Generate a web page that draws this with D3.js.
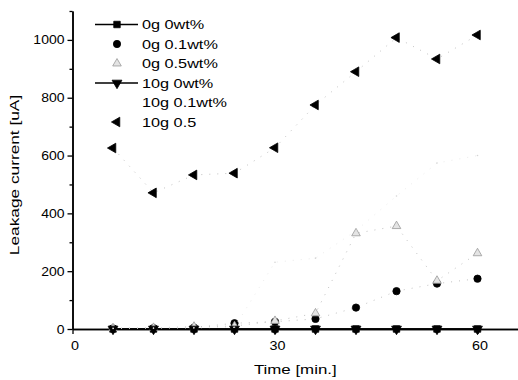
<!DOCTYPE html>
<html>
<head>
<meta charset="utf-8">
<script src="https://cdn.jsdelivr.net/npm/d3@7"></script>
<style>
  body { margin: 0; background: #fff; }
  text { font-family: "Liberation Sans", Arial, sans-serif; fill: #000; }
</style>
</head>
<body>
<svg id="chart" width="518" height="380"></svg>
<script>
// data (time in minutes, current in uA)
const times = [6, 12, 18, 24, 30, 36, 42, 48, 54, 60];
const s0g0wt = [0, 0, 0, 0, 0, 0, 0, 0, 0, 0];
const s0g01wt = [2, 3, 5, 20, 25, 35, 74, 131, 157, 174];
const s0g05wt = [3, 4, 8, 10, 28, 54, 331, 356, 167, 262];
const s10g0wt = [0, 0, 0, 0, 0, 0, 0, 0, 0, 0];
const s10g01wt = [2, 3, 4, 6, 231, 245, 340, 460, 574, 600];
const s10g05 = [626, 471, 533, 539, 627, 775, 890, 1008, 934, 1017];

const xTicks = [0, 30, 60];
const yTicks = [0, 200, 400, 600, 800, 1000];

// the scan is wider than tall, so the text looks stretched sideways
const stretch = 1.25;

const svg = d3.select('#chart');

const x = d3.scaleLinear().domain([0, 66]).range([72.5, 518]);
const y = d3.scaleLinear().domain([0, 1100]).range([329, 11]);

// marker shapes
const sym = {
  square: d3.symbol().type(d3.symbolSquare).size(42),
  circle: d3.symbol().type(d3.symbolCircle).size(42),
  tri: d3.symbol().type(d3.symbolTriangle).size(32),
  down: d3.symbol().type(d3.symbolTriangle).size(42),
  left: d3.symbol().type(d3.symbolTriangle).size(40)
};

const series = [
  { name: '0g 0wt%', vals: s0g0wt, shape: 'square', rot: 0, fill: '#000', stroke: '#000', line: 'solid' },
  { name: '0g 0.1wt%', vals: s0g01wt, shape: 'circle', rot: 0, fill: '#000', stroke: '#000', line: 'dot' },
  { name: '0g 0.5wt%', vals: s0g05wt, shape: 'tri', rot: 0, fill: '#e4e4e4', stroke: '#999', line: 'dot' },
  { name: '10g 0wt%', vals: s10g0wt, shape: 'down', rot: 180, fill: '#000', stroke: '#000', line: 'solid' },
  { name: '10g 0.1wt%', vals: s10g01wt, shape: null, rot: 0, fill: 'none', stroke: '#ececec', line: 'dot' },
  { name: '10g 0.5', vals: s10g05, shape: 'left', rot: -90, fill: '#000', stroke: '#000', line: 'dot' }
];

// axes
const gx = svg.append('g').attr('transform', 'translate(0,' + y(0) + ')');
gx.call(d3.axisBottom(x).tickValues(d3.range(6, 61, 6)).tickSize(3).tickSizeOuter(0).tickFormat(''));
gx.call(g => g.append('g').call(d3.axisBottom(x).tickValues(xTicks).tickSize(5).tickSizeOuter(0).tickFormat(d3.format('d'))));
gx.selectAll('.domain').attr('stroke', '#000').attr('stroke-width', 1.5);
gx.selectAll('line').attr('stroke', '#000').attr('stroke-width', 1.3);
gx.selectAll('text').attr('font-size', 12.5).attr('font-family', 'Liberation Sans').attr('fill', '#000')
  .attr('dy', '1.05em').attr('transform', 'translate(2,0) scale(1.15,1)');

const gy = svg.append('g').attr('transform', 'translate(' + x(0) + ',0)');
gy.call(d3.axisLeft(y).tickValues(d3.range(100, 1101, 200)).tickSize(3).tickSizeOuter(0).tickFormat(''));
gy.call(g => g.append('g').call(d3.axisLeft(y).tickValues(yTicks).tickSize(5).tickSizeOuter(0).tickFormat(d3.format('d'))));
gy.selectAll('.domain').attr('stroke', '#000').attr('stroke-width', 1.5);
gy.selectAll('line').attr('stroke', '#000').attr('stroke-width', 1.3);
gy.selectAll('text').attr('font-size', 12.5).attr('font-family', 'Liberation Sans').attr('fill', '#000')
  .attr('x', 0).attr('transform', 'translate(-8,0) scale(1.12,1)');

// axis titles
svg.append('text')
  .attr('transform', 'translate(' + (x.range()[0] + x.range()[1]) / 2 + ',374) scale(' + stretch + ',1)')
  .attr('text-anchor', 'middle').attr('font-size', 13.5)
  .text('Time [min.]');
svg.append('text')
  .attr('transform', 'translate(19,175) rotate(-90) scale(1.28,1)')
  .attr('text-anchor', 'middle').attr('font-size', 13.5)
  .text('Leakage current [uA]');

// series lines and markers
const plot = svg.append('g');
series.forEach(s => {
  const pts = times.map((t, i) => [t, s.vals[i]]);
  const line = d3.line().x(d => x(d[0])).y(d => y(d[1]));
  plot.append('path')
    .datum(pts)
    .attr('d', line)
    .attr('fill', 'none')
    .attr('stroke', s.line === 'solid' ? s.stroke : (s.shape ? '#c2c2c2' : s.stroke))
    .attr('stroke-width', s.line === 'solid' ? 1.5 : 1)
    .attr('stroke-dasharray', s.line === 'solid' ? null : '1,7');
  if (s.shape) {
    plot.selectAll(null)
      .data(pts)
      .enter()
      .append('path')
      .attr('d', sym[s.shape])
      .attr('transform', d => 'translate(' + x(d[0]) + ',' + y(d[1]) + ') rotate(' + s.rot + ')')
      .attr('fill', s.fill)
      .attr('stroke', s.stroke)
      .attr('stroke-width', 0.8);
  } else {
    plot.selectAll(null)
      .data(pts)
      .enter()
      .append('circle')
      .attr('cx', d => x(d[0])).attr('cy', d => y(d[1]))
      .attr('r', 0.8).attr('fill', '#d4d4d4');
  }
});

// legend
const leg = svg.append('g');
const rowY = d3.scaleLinear().domain([0, 5]).range([24.5, 122]);
series.forEach((s, i) => {
  const row = leg.append('g').attr('transform', 'translate(0,' + rowY(i) + ')');
  if (s.line === 'solid') {
    row.append('line').attr('x1', 95).attr('x2', 138).attr('y1', 0).attr('y2', 0)
      .attr('stroke', '#000').attr('stroke-width', 1.5);
  }
  if (s.shape) {
    row.append('path')
      .attr('d', sym[s.shape])
      .attr('transform', 'translate(117,0) rotate(' + s.rot + ')')
      .attr('fill', s.fill).attr('stroke', s.stroke).attr('stroke-width', 0.8);
  }
  row.append('text')
    .attr('transform', 'translate(142,0) scale(' + stretch + ',1)')
    .attr('dy', '0.36em')
    .attr('font-size', 13)
    .text(s.name);
});
</script>
</body>
</html>
